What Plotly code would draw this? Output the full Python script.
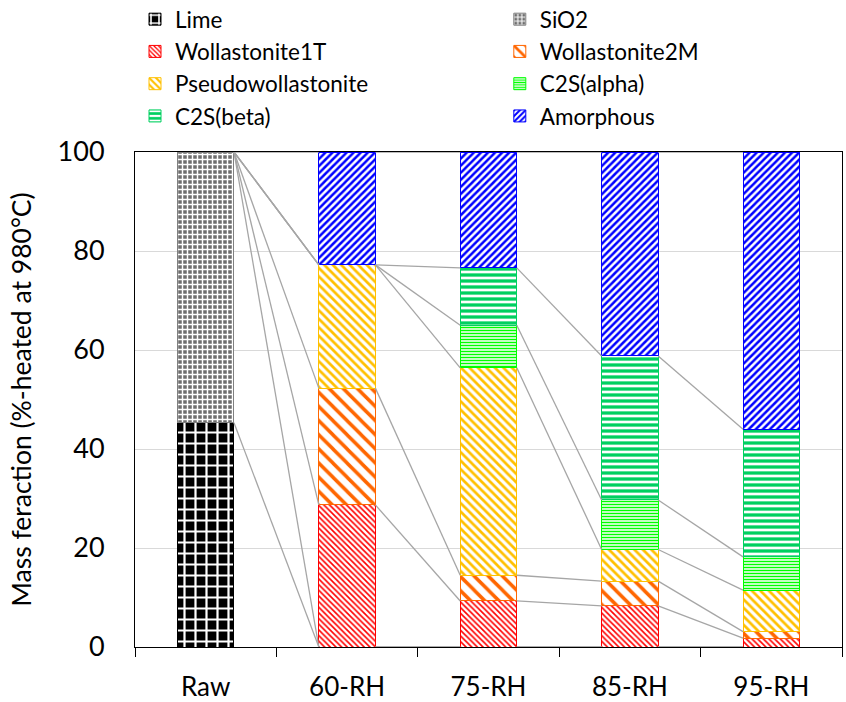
import plotly.graph_objects as go

categories = ["Raw", "60-RH", "75-RH", "85-RH", "95-RH"]
series_names = ["Lime", "SiO2", "Wollastonite1T", "Wollastonite2M",
                "Pseudowollastonite", "C2S(alpha)", "C2S(beta)", "Amorphous"]
lime = [45.3, 0, 0, 0, 0]
sio2 = [54.7, 0, 0, 0, 0]
wollastonite_1t = [0, 28.7, 9.3, 8.3, 1.8]
wollastonite_2m = [0, 23.6, 5.2, 5.0, 1.3]
pseudowollastonite = [0, 24.9, 41.9, 6.4, 8.4]
c2s_alpha = [0, 0, 8.6, 10.0, 6.7]
c2s_beta = [0, 0, 11.6, 29.1, 25.8]
amorphous = [0, 22.8, 23.4, 41.2, 56.0]
y_ticks = [0, 20, 40, 60, 80, 100]

values = [lime, sio2, wollastonite_1t, wollastonite_2m,
          pseudowollastonite, c2s_alpha, c2s_beta, amorphous]

styles = [
    dict(color="#000000", shape="+", fg="#ffffff", bg="#000000", size=11, sol=0.36),
    dict(color="#808080", shape="+", fg="#ffffff", bg="#6e6e6e", size=5, sol=0.5),
    dict(color="#ff0000", shape="\\", fg="#ff0000", bg="#ffffff", size=4, sol=0.4),
    dict(color="#ff6600", shape="\\", fg="#ff6600", bg="#ffffff", size=10, sol=0.35),
    dict(color="#ffc000", shape="\\", fg="#ffc000", bg="#ffffff", size=6, sol=0.45),
    dict(color="#00ff00", shape="-", fg="#00ff00", bg="#ffffff", size=3, sol=0.5),
    dict(color="#00d060", shape="-", fg="#00d060", bg="#ffffff", size=6, sol=0.55),
    dict(color="#0000ff", shape="/", fg="#0000ff", bg="#ffffff", size=5, sol=0.5),
]
legend_of = ["legend", "legend2", "legend", "legend2",
             "legend", "legend2", "legend", "legend2"]

xs = list(range(len(categories)))
bar_w = 0.4
FONT = "Lato"

fig = go.Figure()

# series lines (Excel style) connecting cumulative tops between adjacent bars
cum = []
running = [0.0] * len(categories)
for vals in values:
    running = [r + v for r, v in zip(running, vals)]
    cum.append(list(running))
lx, ly = [], []
for c in cum:
    for i in range(len(categories) - 1):
        lx += [xs[i] + bar_w / 2, xs[i + 1] - bar_w / 2, None]
        ly += [c[i], c[i + 1], None]
fig.add_trace(go.Scatter(x=lx, y=ly, mode="lines", showlegend=False,
                         line=dict(color="#a6a6a6", width=1.3), hoverinfo="skip"))

for name, vals, st, lg in zip(series_names, values, styles, legend_of):
    yv = [v if v != 0 else None for v in vals]
    fig.add_trace(go.Bar(
        x=xs, y=yv, name=name, width=bar_w, legend=lg, legendgroup=name,
        marker=dict(color=st["color"],
                    line=dict(color=st["color"], width=1),
                    pattern=dict(shape=st["shape"], fgcolor=st["fg"], bgcolor=st["bg"],
                                 size=st["size"], solidity=st["sol"], fillmode="replace")),
    ))

leg_common = dict(orientation="v", yanchor="top", xanchor="left",
                  font=dict(family=FONT, size=22.5, color="#000000"),
                  traceorder="normal", tracegroupgap=2, bgcolor="rgba(0,0,0,0)")

fig.update_layout(
    width=846, height=702,
    barmode="stack",
    plot_bgcolor="white", paper_bgcolor="white",
    margin=dict(l=135, r=4, t=152, b=55, autoexpand=False),
    font=dict(family=FONT, size=22, color="#000000"),
    legend=dict(x=0.0, y=1.311, **leg_common),
    legend2=dict(x=0.516, y=1.311, **leg_common),
    xaxis=dict(range=[-0.5, 4.5], tickvals=xs, ticktext=categories, ticks="",
               showline=True, linecolor="#000000", linewidth=1, mirror=True,
               showgrid=False, zeroline=False, ticklabelstandoff=17, automargin=False,
               tickfont=dict(family=FONT, size=26),
               minor=dict(tickvals=[-0.5, 0.5, 1.5, 2.5, 3.5, 4.5], ticks="outside",
                          ticklen=9, tickcolor="#000000", tickwidth=1, showgrid=False)),
    yaxis=dict(range=[0, 100], tickvals=y_ticks, ticks="",
               showline=True, linecolor="#000000", linewidth=1, mirror=True,
               showgrid=True, gridcolor="#d9d9d9", gridwidth=1, zeroline=False,
               ticklabelstandoff=24, automargin=False, tickfont=dict(family=FONT, size=27),
               title=dict(text="Mass feraction (%-heated at 980°C)",
                          font=dict(family=FONT, size=26.5), standoff=18)),
)

fig.write_html("out.html")
